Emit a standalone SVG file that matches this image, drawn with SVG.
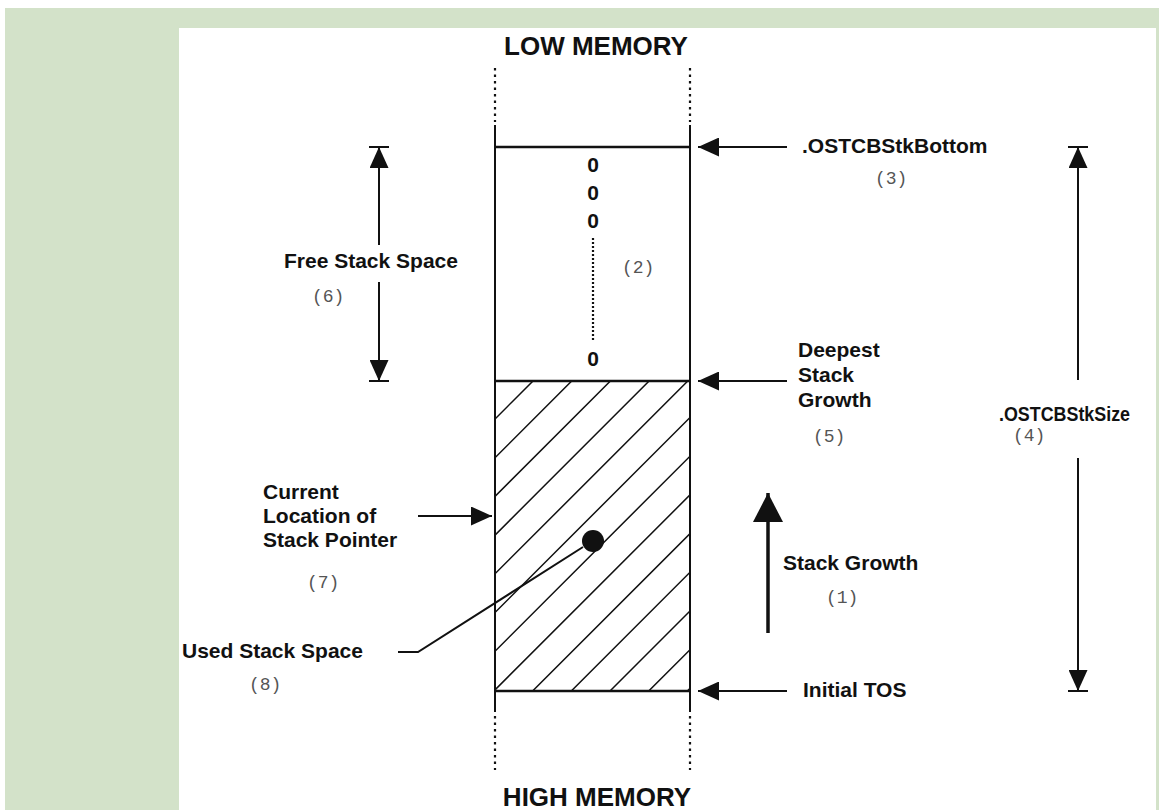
<svg xmlns="http://www.w3.org/2000/svg" width="1159" height="810" viewBox="0 0 1159 810">
<defs>
<style>
.t{font-family:"Liberation Sans",Arial,Helvetica,sans-serif;font-weight:bold;font-size:21px;fill:#111}
.h{font-size:26px;text-anchor:middle}
.z{text-anchor:middle}
.n{font-family:"Liberation Mono","Courier New",monospace;font-size:18px;fill:#555}
.ln{stroke:#111;stroke-width:2;fill:none}
.hl{stroke:#111;stroke-width:2.5;fill:none}
.dot{stroke:#111;stroke-width:2.2;stroke-dasharray:2.5 4;fill:none}
.dot2{stroke:#111;stroke-width:2.2;stroke-dasharray:2 2;fill:none}
.hatch{stroke:#111;stroke-width:1.5;fill:none}
.ar{stroke:#111;stroke-width:2;fill:none;marker-end:url(#ah)}
.arb{stroke:#111;stroke-width:3.5;fill:none;marker-end:url(#ahb)}
</style>
<marker id="ah" markerUnits="userSpaceOnUse" viewBox="0 0 21 19" refX="21" refY="9.5" markerWidth="21" markerHeight="19" orient="auto"><path d="M0,0L21,9.5L0,19z" fill="#111"/></marker>
<marker id="ahb" markerUnits="userSpaceOnUse" viewBox="0 0 29 30" refX="29" refY="15" markerWidth="29" markerHeight="30" orient="auto"><path d="M0,0L29,15L0,30z" fill="#111"/></marker>
<clipPath id="hc"><rect x="495" y="381" width="195" height="310"/></clipPath>
</defs>

<g id="background">
<rect x="5" y="8" width="1154" height="802" fill="#d3e2c9"/>
<rect x="179" y="28" width="977" height="782" fill="#ffffff"/>
</g>

<g id="stack">
<g clip-path="url(#hc)">
<path class="hatch" d="M223,691L533,381M261.7,691L571.7,381M300.4,691L610.4,381M339.1,691L649.1,381M377.8,691L687.8,381M416.5,691L726.5,381M455.2,691L765.2,381M493.9,691L803.9,381M532.6,691L842.6,381M571.3,691L881.3,381M610,691L920,381M648.7,691L958.7,381M687.4,691L997.4,381"/>
</g>
<line class="ln" x1="495" y1="125" x2="495" y2="712"/>
<line class="ln" x1="690" y1="125" x2="690" y2="712"/>
<line class="dot" x1="495" y1="68" x2="495" y2="122"/>
<line class="dot" x1="690" y1="68" x2="690" y2="122"/>
<line class="dot" x1="495" y1="716" x2="495" y2="770"/>
<line class="dot" x1="690" y1="716" x2="690" y2="770"/>
<line class="hl" x1="495" y1="147" x2="690" y2="147"/>
<line class="hl" x1="495" y1="381" x2="690" y2="381"/>
<line class="hl" x1="495" y1="691" x2="690" y2="691"/>
<text class="t z" x="593" y="172">0</text>
<text class="t z" x="593" y="200">0</text>
<text class="t z" x="593" y="228">0</text>
<line class="dot2" x1="593" y1="238" x2="593" y2="341"/>
<text class="t z" x="593" y="366">0</text>
<text class="n" x="622" y="273">(2)</text>
<circle cx="593" cy="541" r="11" fill="#111"/>
</g>

<g id="low-memory"><text class="t h" x="596" y="55">LOW MEMORY</text></g>
<g id="high-memory"><text class="t h" x="597" y="806">HIGH MEMORY</text></g>

<g id="stk-bottom">
<text class="t" x="802" y="153">.OSTCBStkBottom</text>
<text class="n" x="875" y="184">(3)</text>
</g>
<g id="deepest">
<text class="t" x="798" y="357">Deepest</text>
<text class="t" x="798" y="382">Stack</text>
<text class="t" x="798" y="407">Growth</text>
<text class="n" x="813" y="442">(5)</text>
</g>
<g id="free-space">
<text class="t" x="284" y="268">Free Stack Space</text>
<text class="n" x="312" y="302">(6)</text>
</g>
<g id="stk-size">
<text class="t" x="999" y="421" textLength="131" lengthAdjust="spacingAndGlyphs">.OSTCBStkSize</text>
<text class="n" x="1013" y="441">(4)</text>
</g>
<g id="current-sp">
<text class="t" x="263" y="499">Current</text>
<text class="t" x="263" y="523">Location of</text>
<text class="t" x="263" y="547">Stack Pointer</text>
<text class="n" x="307" y="588">(7)</text>
</g>
<g id="stack-growth">
<text class="t" x="783" y="570">Stack Growth</text>
<text class="n" x="826" y="603">(1)</text>
</g>
<g id="used-space">
<text class="t" x="182" y="658">Used Stack Space</text>
<text class="n" x="249" y="690">(8)</text>
</g>
<g id="initial-tos">
<text class="t" x="803" y="697">Initial TOS</text>
</g>

<g id="connectors">
<line class="ar" x1="787" y1="147" x2="698" y2="147"/>
<line class="ar" x1="787" y1="381" x2="698" y2="381"/>
<line class="ar" x1="787" y1="691" x2="698" y2="691"/>
<line class="ar" x1="418" y1="516" x2="492" y2="516"/>
<polyline class="ln" points="398,652 418,652 583,547"/>
<line class="ar" x1="379" y1="245" x2="379" y2="147"/>
<line class="ln" x1="369" y1="147" x2="389" y2="147"/>
<line class="ar" x1="379" y1="282" x2="379" y2="381"/>
<line class="ln" x1="369" y1="381" x2="389" y2="381"/>
<line class="ar" x1="1078" y1="380" x2="1078" y2="147"/>
<line class="ln" x1="1068" y1="147" x2="1088" y2="147"/>
<line class="ar" x1="1078" y1="458" x2="1078" y2="691"/>
<line class="ln" x1="1068" y1="691" x2="1088" y2="691"/>
<line class="arb" x1="768" y1="633" x2="768" y2="493"/>
</g>
</svg>
